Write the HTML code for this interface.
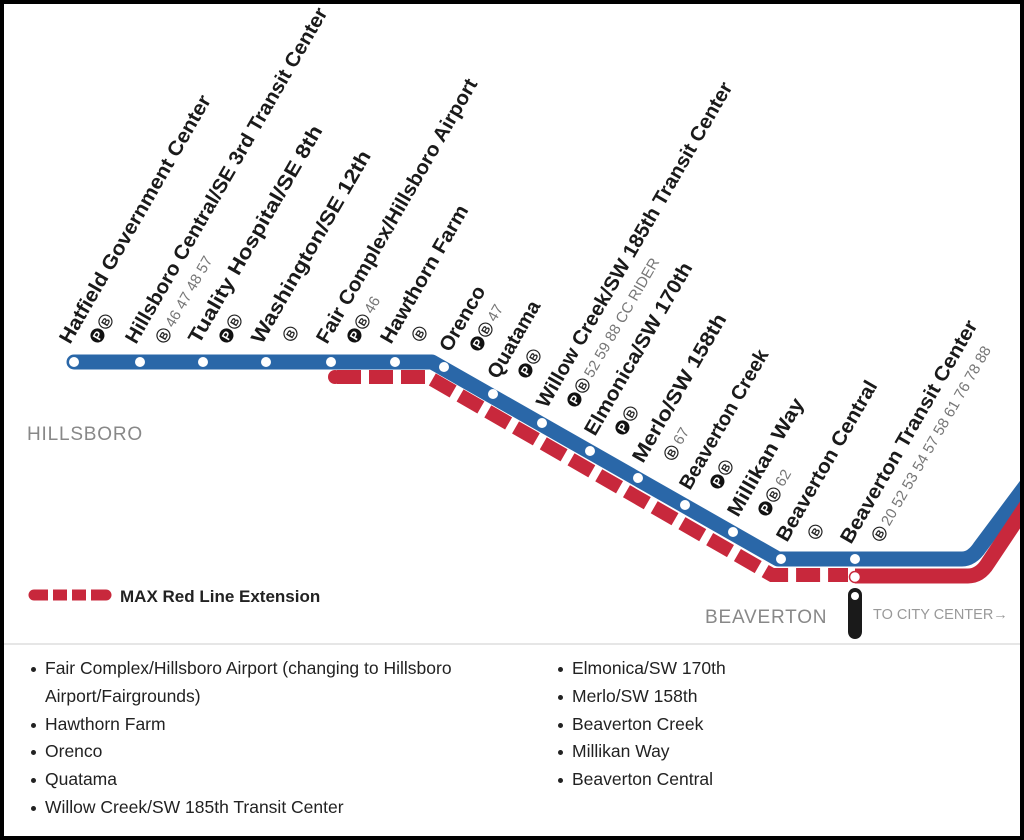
<!DOCTYPE html>
<html><head><meta charset="utf-8"><style>
html,body{margin:0;padding:0;background:#fff}
body{width:1024px;height:840px;overflow:hidden;position:relative;font-family:"Liberation Sans",sans-serif}
.frame{position:absolute;left:0;top:0;width:1016px;height:832px;border:4px solid #000}
.list{position:absolute;font-size:17.5px;color:#222;line-height:27.8px}
.list div{position:relative;padding-left:14px}
.list div:before{content:"";position:absolute;left:0;top:12px;width:5px;height:5px;border-radius:50%;background:#222}
</style></head><body>
<svg width="1024" height="840" style="position:absolute;left:0;top:0">
<defs>
<g id="P"><circle r="7" fill="#111"/><text y="4.5" text-anchor="middle" font-size="12" font-weight="bold" fill="#fff" font-family="Liberation Sans">P</text></g>
<g id="B"><circle r="6.5" fill="#fff" stroke="#222" stroke-width="1.2"/><text y="4" text-anchor="middle" font-size="10.5" font-weight="bold" fill="#222" font-family="Liberation Sans">B</text></g>
</defs>
<path d="M74,362 L432,362 L778,559 L962,559 Q972,559 980,547 L1030,480" fill="none" stroke="#2a67a8" stroke-width="15" stroke-linejoin="round" stroke-linecap="round"/>
<path d="M337,377 L428,377 L772,575 L848,575" fill="none" stroke="#c8283c" stroke-width="14" stroke-dasharray="24 8"/>
<circle cx="335" cy="377" r="7" fill="#c8283c"/>
<path d="M855,576 L968,576 Q980,576 988,563 L1030,500" fill="none" stroke="#c8283c" stroke-width="15" stroke-linejoin="round"/>
<g fill="#fff">
<circle cx="74" cy="362" r="5"/><circle cx="140" cy="362" r="5"/><circle cx="203" cy="362" r="5"/><circle cx="266" cy="362" r="5"/><circle cx="331" cy="362" r="5"/><circle cx="395" cy="362" r="5"/>
<circle cx="444" cy="367" r="5"/><circle cx="493" cy="394" r="5"/><circle cx="542" cy="423" r="5"/><circle cx="590" cy="451" r="5"/><circle cx="638" cy="478" r="5"/><circle cx="685" cy="505" r="5"/><circle cx="733" cy="532" r="5"/><circle cx="781" cy="559" r="5"/><circle cx="855" cy="559" r="5"/>
</g>
<circle cx="855" cy="577" r="5.5" fill="#fff" stroke="#c8283c" stroke-width="1.5"/>
<rect x="848" y="588" width="14" height="51" rx="7" fill="#1a1a1a"/>
<circle cx="855" cy="596" r="4" fill="#fff"/>
<g font-family="Liberation Sans" font-size="20" font-weight="bold" fill="#1a1a1a">
<g transform="translate(70,345) rotate(-60)"><text textLength="283" lengthAdjust="spacingAndGlyphs">Hatfield Government Center</text><use href="#P" x="22" y="19"/><use href="#B" x="38" y="19"/></g>
<g transform="translate(136,345) rotate(-60)"><text textLength="384" lengthAdjust="spacingAndGlyphs">Hillsboro Central/SE 3rd Transit Center</text><use href="#B" x="22" y="19"/><text x="33" y="24" font-size="15" font-weight="normal" fill="#777">46 47 48 57</text></g>
<g transform="translate(199,345) rotate(-60)"><text textLength="248" lengthAdjust="spacingAndGlyphs">Tuality Hospital/SE 8th</text><use href="#P" x="22" y="19"/><use href="#B" x="38" y="19"/></g>
<g transform="translate(262,345) rotate(-60)"><text textLength="219" lengthAdjust="spacingAndGlyphs">Washington/SE 12th</text><use href="#B" x="24" y="19"/></g>
<g transform="translate(327,345) rotate(-60)"><text textLength="302" lengthAdjust="spacingAndGlyphs">Fair Complex/Hillsboro Airport</text><use href="#P" x="22" y="19"/><use href="#B" x="38" y="19"/><text x="49" y="24" font-size="15" font-weight="normal" fill="#777">46</text></g>
<g transform="translate(391,345) rotate(-60)"><text textLength="156" lengthAdjust="spacingAndGlyphs">Hawthorn Farm</text><use href="#B" x="24" y="19"/></g>
<g transform="translate(450,353) rotate(-60)"><text textLength="72" lengthAdjust="spacingAndGlyphs">Orenco</text><use href="#P" x="22" y="19"/><use href="#B" x="38" y="19"/><text x="49" y="24" font-size="15" font-weight="normal" fill="#777">47</text></g>
<g transform="translate(498,380) rotate(-60)"><text textLength="86" lengthAdjust="spacingAndGlyphs">Quatama</text><use href="#P" x="22" y="19"/><use href="#B" x="38" y="19"/></g>
<g transform="translate(547,409) rotate(-60)"><text textLength="372" lengthAdjust="spacingAndGlyphs">Willow Creek/SW 185th Transit Center</text><use href="#P" x="22" y="19"/><use href="#B" x="38" y="19"/><text x="49" y="24" font-size="15" font-weight="normal" fill="#777">52 59 88 CC RIDER</text></g>
<g transform="translate(595,437) rotate(-60)"><text textLength="196" lengthAdjust="spacingAndGlyphs">Elmonica/SW 170th</text><use href="#P" x="22" y="19"/><use href="#B" x="38" y="19"/></g>
<g transform="translate(643,464) rotate(-60)"><text textLength="168" lengthAdjust="spacingAndGlyphs">Merlo/SW 158th</text><use href="#B" x="24" y="19"/><text x="35" y="24" font-size="15" font-weight="normal" fill="#777">67</text></g>
<g transform="translate(690,491) rotate(-60)"><text textLength="158" lengthAdjust="spacingAndGlyphs">Beaverton Creek</text><use href="#P" x="22" y="19"/><use href="#B" x="38" y="19"/></g>
<g transform="translate(738,518) rotate(-60)"><text textLength="133" lengthAdjust="spacingAndGlyphs">Millikan Way</text><use href="#P" x="22" y="19"/><use href="#B" x="38" y="19"/><text x="49" y="24" font-size="15" font-weight="normal" fill="#777">62</text></g>
<g transform="translate(787,543) rotate(-60)"><text textLength="182" lengthAdjust="spacingAndGlyphs">Beaverton Central</text><use href="#B" x="24" y="19"/></g>
<g transform="translate(851,545) rotate(-60)"><text textLength="254" lengthAdjust="spacingAndGlyphs">Beaverton Transit Center</text><use href="#B" x="24" y="19"/><text x="35" y="24" font-size="15" font-weight="normal" fill="#777">20 52 53 54 57 58 61 76 78 88</text></g>
</g>
<text x="27" y="440" font-family="Liberation Sans" font-size="19" fill="#888" letter-spacing="0.8">HILLSBORO</text>
<text x="705" y="623" font-family="Liberation Sans" font-size="19" fill="#888" letter-spacing="0.8">BEAVERTON</text>
<text x="873" y="619" font-family="Liberation Sans" font-size="14.5" fill="#999">TO CITY CENTER→</text>
<path d="M34,595 L104,595" stroke="#c8283c" stroke-width="11" stroke-dasharray="14 5"/>
<circle cx="34" cy="595" r="5.5" fill="#c8283c"/>
<path d="M104,589.5 L106,589.5 A5.5,5.5 0 0 1 106,600.5 L104,600.5 Z" fill="#c8283c"/>
<text x="120" y="602" font-family="Liberation Sans" font-size="17" font-weight="bold" fill="#222">MAX Red Line Extension</text>
<line x1="4" y1="644" x2="1020" y2="644" stroke="#ddd" stroke-width="1.5"/>
</svg>
<div class="list" style="left:31px;top:655px;width:480px">
<div>Fair Complex/Hillsboro Airport (changing to Hillsboro<br>Airport/Fairgrounds)</div>
<div>Hawthorn Farm</div><div>Orenco</div><div>Quatama</div><div>Willow Creek/SW 185th Transit Center</div>
</div>
<div class="list" style="left:558px;top:655px;width:400px">
<div>Elmonica/SW 170th</div><div>Merlo/SW 158th</div><div>Beaverton Creek</div><div>Millikan Way</div><div>Beaverton Central</div>
</div>
<div class="frame"></div>
</body></html>
